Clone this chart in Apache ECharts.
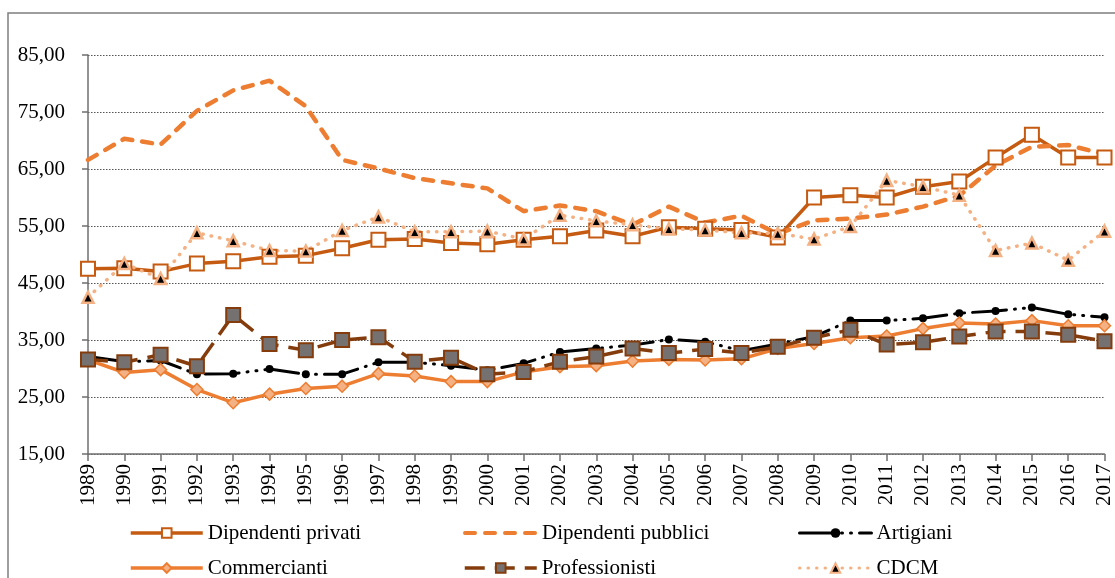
<!DOCTYPE html>
<html>
<head>
<meta charset="utf-8">
<script src="https://cdn.jsdelivr.net/npm/echarts@6/dist/echarts.min.js"></script>
<style>
  html, body { margin: 0; padding: 0; background: #fff; }
  #chart { width: 1115px; height: 578px; }
</style>
</head>
<body>
<div id="chart"></div>
<script>
// anni
var years = ['1989','1990','1991','1992','1993','1994','1995','1996','1997','1998',
    '1999','2000','2001','2002','2003','2004','2005','2006','2007','2008',
    '2009','2010','2011','2012','2013','2014','2015','2016','2017'];

// serie
var dipPrivati = [47.5, 47.6, 47.0, 48.4, 48.8, 49.6, 49.8, 51.1, 52.6, 52.7,
    52.0, 51.8, 52.6, 53.2, 54.2, 53.2, 54.8, 54.5, 54.3, 53.0,
    60.0, 60.4, 60.0, 61.9, 62.8, 67.0, 71.0, 67.0, 67.0];
var dipPubblici = [66.6, 70.3, 69.3, 75.2, 78.8, 80.5, 76.0, 66.6, 65.1, 63.4,
    62.5, 61.6, 57.6, 58.6, 57.6, 55.2, 58.4, 55.6, 56.8, 53.6,
    56.0, 56.3, 57.0, 58.4, 60.3, 65.6, 68.9, 69.2, 67.6];
var artigiani = [32.1, 31.2, 31.4, 29.0, 29.1, 29.9, 29.0, 29.0, 31.1, 31.1,
    30.5, 29.7, 30.9, 32.9, 33.5, 34.1, 35.1, 34.7, 33.1, 34.3,
    35.6, 38.4, 38.4, 38.8, 39.7, 40.1, 40.7, 39.5, 39.0];
var commercianti = [31.5, 29.3, 29.8, 26.3, 24.0, 25.5, 26.5, 26.9, 29.1, 28.7,
    27.7, 27.7, 29.4, 30.3, 30.5, 31.3, 31.6, 31.5, 31.7, 33.5,
    34.4, 35.4, 35.7, 37.0, 38.0, 37.8, 38.4, 37.5, 37.5];
var professionisti = [31.6, 31.1, 32.4, 30.4, 39.4, 34.3, 33.2, 35.0, 35.5, 31.2,
    31.9, 29.0, 29.4, 31.2, 32.1, 33.5, 32.7, 33.4, 32.7, 33.8,
    35.4, 36.8, 34.2, 34.6, 35.6, 36.5, 36.5, 35.9, 34.8];
var cdcm = [42.5, 48.4, 45.8, 53.8, 52.4, 50.7, 50.6, 54.2, 56.6, 54.0,
    54.0, 54.1, 52.7, 56.9, 55.9, 55.2, 54.5, 54.3, 53.8, 53.7,
    52.7, 54.9, 63.0, 61.9, 60.4, 50.7, 52.0, 49.0, 54.1];

var font = 'Liberation Serif';

var chart = echarts.init(document.getElementById('chart'));

function legendAt(item, left, top, lineWidth) {
    return {
        data: [item],
        left: left,
        top: top,
        padding: 0,
        itemWidth: 72,
        itemHeight: 12,
        selectedMode: false,
        lineStyle: { width: lineWidth },
        textStyle: { fontFamily: font, fontSize: 21, color: '#000', lineHeight: 22 }
    };
}

var option = {
    backgroundColor: '#fff',
    animation: false,
    graphic: [{
        type: 'rect',
        shape: { x: 8, y: 13, width: 1300, height: 700 },
        style: { fill: 'none', stroke: '#7f7f7f', lineWidth: 1.5 },
        silent: true
    }],
    grid: { left: 88, right: 3, top: 55, bottom: 124 },
    legend: [
        legendAt('Dipendenti privati', 129, 522, 3.5),
        legendAt({ name: 'Dipendenti pubblici', itemStyle: { opacity: 0 } }, 463, 522, 4),
        legendAt('Artigiani', 798, 522, 3),
        legendAt('Commercianti', 129, 557, 3.5),
        legendAt('Professionisti', 463, 557, 3.5),
        legendAt('CDCM', 798, 557, 3)
    ],
    xAxis: {
        type: 'category',
        data: years,
        boundaryGap: false,
        axisLine: { lineStyle: { color: '#6f6f6f', width: 1.5 } },
        axisTick: { show: true, length: 7, lineStyle: { color: '#6f6f6f', width: 1.5 } },
        axisLabel: { rotate: 90, interval: 0, margin: 10, fontFamily: font, fontSize: 21, color: '#000' }
    },
    yAxis: {
        type: 'value',
        min: 15,
        max: 85,
        interval: 10,
        axisLine: { show: true, lineStyle: { color: '#6f6f6f', width: 1.5 } },
        axisTick: { show: true, length: 6, lineStyle: { color: '#6f6f6f', width: 1.5 } },
        axisLabel: {
            margin: 23, fontFamily: font, fontSize: 21, color: '#000',
            formatter: function (v) { return v.toFixed(2).replace('.', ','); }
        },
        splitLine: { lineStyle: { color: '#555', type: [1.5, 1.5], width: 1.2 } }
    },
    series: [{
        name: 'Dipendenti privati',
        type: 'line',
        data: dipPrivati,
        symbol: 'rect',
        symbolSize: 14,
        lineStyle: { color: '#C55A11', width: 3.5 },
        itemStyle: { color: '#fff', borderColor: '#C55A11', borderWidth: 2 }
    }, {
        name: 'Dipendenti pubblici',
        type: 'line',
        data: dipPubblici,
        symbol: 'none',
        lineStyle: { color: '#ED7D31', width: 4.5, type: [10, 10], cap: 'round' },
        itemStyle: { color: '#ED7D31' }
    }, {
        name: 'Artigiani',
        type: 'line',
        data: artigiani,
        symbol: 'circle',
        symbolSize: 8,
        lineStyle: { color: '#000', width: 3, type: [34, 8, 1, 8, 1, 8], cap: 'round' },
        itemStyle: { color: '#000' }
    }, {
        name: 'Commercianti',
        type: 'line',
        data: commercianti,
        symbol: 'diamond',
        symbolSize: 12,
        lineStyle: { color: '#ED7D31', width: 3.5 },
        itemStyle: { color: '#F4B183', borderColor: '#ED7D31', borderWidth: 1.5 }
    }, {
        name: 'Professionisti',
        type: 'line',
        data: professionisti,
        symbol: 'rect',
        symbolSize: 14,
        lineStyle: { color: '#843C0C', width: 3.5, type: [20, 10] },
        itemStyle: { color: '#767171', borderColor: '#843C0C', borderWidth: 2 }
    }, {
        name: 'CDCM',
        type: 'line',
        data: cdcm,
        symbol: 'triangle',
        symbolSize: 11,
        lineStyle: { color: '#F4B183', width: 3.5, type: [0.5, 8], cap: 'round' },
        itemStyle: { color: '#000', borderColor: '#F4B183', borderWidth: 2.5 }
    }]
};

chart.setOption(option);
</script>
</body>
</html>
